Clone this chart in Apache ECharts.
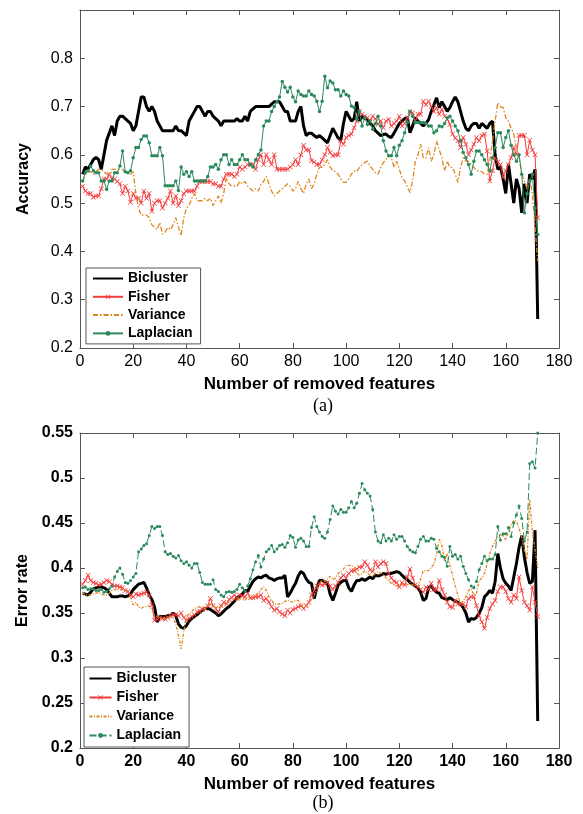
<!DOCTYPE html>
<html>
<head>
<meta charset="utf-8">
<script src="https://cdn.jsdelivr.net/npm/echarts@6/dist/echarts.min.js"></script>
<style>
  html, body { margin: 0; padding: 0; background: #fff; }
  #chart { width: 583px; height: 814px; }
</style>
</head>
<body>
<div id="chart"></div>
<script>
// Method names shown in both legends
const METHODS = ['Bicluster', 'Fisher', 'Variance', 'Laplacian'];
// methods drawn as plain lines (no point markers)
const LINE_ONLY = ['Bicluster', 'Variance'];

// x-axis ticks (number of removed features)
const X_TICKS = [0, 20, 40, 60, 80, 100, 120, 140, 160, 180];
const ACC_TICKS = [0.2, 0.3, 0.4, 0.5, 0.6, 0.7, 0.8, 0.9];
const ERR_TICKS = [0.2, 0.25, 0.3, 0.35, 0.4, 0.45, 0.5, 0.55];

// (a) accuracy after removing 1..172 features
const ACC_BICLUSTER = [
  0.56, 0.575, 0.57, 0.58, 0.59, 0.595, 0.59, 0.57, 0.60, 0.63,
  0.645, 0.66, 0.64, 0.67, 0.68, 0.68, 0.675, 0.67, 0.665, 0.65,
  0.66, 0.69, 0.72, 0.72, 0.70, 0.69, 0.70, 0.69, 0.67, 0.66,
  0.65, 0.65, 0.65, 0.65, 0.65, 0.66, 0.65, 0.65, 0.645, 0.64,
  0.67, 0.68, 0.69, 0.70, 0.70, 0.69, 0.68, 0.69, 0.69, 0.68,
  0.675, 0.67, 0.66, 0.67, 0.67, 0.67, 0.67, 0.67, 0.675, 0.67,
  0.67, 0.68, 0.67, 0.69, 0.695, 0.70, 0.70, 0.70, 0.70, 0.70,
  0.70, 0.705, 0.71, 0.71, 0.71, 0.70, 0.69, 0.69, 0.67, 0.67,
  0.67, 0.69, 0.70, 0.66, 0.64, 0.645, 0.645, 0.64, 0.636, 0.64,
  0.635, 0.63, 0.625, 0.64, 0.655, 0.645, 0.635, 0.63, 0.665, 0.69,
  0.68, 0.67, 0.675, 0.71, 0.67, 0.68, 0.675, 0.674, 0.665, 0.66,
  0.65, 0.645, 0.64, 0.642, 0.643, 0.638, 0.636, 0.645, 0.655, 0.665,
  0.67, 0.675, 0.677, 0.646, 0.66, 0.677, 0.67, 0.665, 0.66, 0.665,
  0.673, 0.69, 0.704, 0.718, 0.698, 0.71, 0.70, 0.69, 0.698, 0.71,
  0.72, 0.71, 0.69, 0.67, 0.655, 0.65, 0.66, 0.665, 0.665, 0.655,
  0.665, 0.66, 0.655, 0.665, 0.67, 0.60, 0.57, 0.575, 0.55, 0.52,
  0.58, 0.54, 0.50, 0.55, 0.53, 0.48, 0.54, 0.50, 0.56, 0.55,
  0.57, 0.26
];
const ACC_FISHER = [
  0.535, 0.525, 0.52, 0.52, 0.512, 0.515, 0.515, 0.53, 0.55, 0.55,
  0.56, 0.55, 0.55, 0.545, 0.54, 0.52, 0.535, 0.525, 0.502, 0.52,
  0.51, 0.51, 0.50, 0.525, 0.51, 0.52, 0.483, 0.50, 0.505, 0.505,
  0.49, 0.50, 0.51, 0.525, 0.50, 0.515, 0.495, 0.505, 0.52, 0.525,
  0.525, 0.525, 0.525, 0.535, 0.545, 0.545, 0.545, 0.545, 0.545, 0.54,
  0.54, 0.535, 0.535, 0.55, 0.56, 0.56, 0.56, 0.555, 0.56, 0.575,
  0.57, 0.575, 0.58, 0.58, 0.58, 0.57, 0.59, 0.60, 0.58, 0.60,
  0.59, 0.58, 0.60, 0.57, 0.57, 0.57, 0.57, 0.57, 0.575, 0.58,
  0.59, 0.58, 0.60, 0.62, 0.61, 0.61, 0.588, 0.585, 0.58, 0.58,
  0.59, 0.60, 0.615, 0.605, 0.598, 0.60, 0.60, 0.629, 0.622, 0.636,
  0.64, 0.643, 0.656, 0.67, 0.69, 0.684, 0.68, 0.677, 0.67, 0.68,
  0.675, 0.663, 0.67, 0.656, 0.67, 0.674, 0.66, 0.665, 0.67, 0.68,
  0.66, 0.665, 0.677, 0.69, 0.687, 0.67, 0.684, 0.684, 0.711, 0.704,
  0.711, 0.70, 0.69, 0.698, 0.684, 0.694, 0.68, 0.674, 0.663, 0.643,
  0.635, 0.629, 0.615, 0.636, 0.622, 0.60, 0.61, 0.622, 0.636, 0.629,
  0.64, 0.643, 0.608, 0.546, 0.567, 0.594, 0.585, 0.58, 0.553, 0.567,
  0.58, 0.594, 0.615, 0.60, 0.64, 0.64, 0.64, 0.60, 0.63, 0.61,
  0.60, 0.47
];
const ACC_VARIANCE = [
  0.545, 0.56, 0.565, 0.565, 0.56, 0.565, 0.57, 0.57, 0.565, 0.56,
  0.56, 0.57, 0.57, 0.57, 0.57, 0.57, 0.565, 0.565, 0.56, 0.565,
  0.52, 0.49, 0.475, 0.475, 0.475, 0.47, 0.455, 0.45, 0.445, 0.46,
  0.436, 0.44, 0.45, 0.445, 0.455, 0.47, 0.45, 0.433, 0.47, 0.49,
  0.495, 0.51, 0.52, 0.505, 0.505, 0.505, 0.51, 0.505, 0.51, 0.495,
  0.505, 0.515, 0.50, 0.52, 0.553, 0.54, 0.535, 0.535, 0.535, 0.545,
  0.54, 0.545, 0.535, 0.53, 0.525, 0.53, 0.525, 0.54, 0.545, 0.555,
  0.54, 0.525, 0.515, 0.52, 0.525, 0.53, 0.535, 0.54, 0.535, 0.525,
  0.53, 0.545, 0.53, 0.52, 0.54, 0.55, 0.53, 0.54, 0.56, 0.574,
  0.574, 0.58, 0.59, 0.575, 0.567, 0.565, 0.56, 0.55, 0.543, 0.543,
  0.55, 0.56, 0.567, 0.565, 0.574, 0.58, 0.584, 0.587, 0.577, 0.57,
  0.563, 0.56, 0.574, 0.584, 0.59, 0.60, 0.594, 0.574, 0.587, 0.57,
  0.553, 0.546, 0.533, 0.522, 0.546, 0.587, 0.60, 0.622, 0.594, 0.594,
  0.615, 0.587, 0.60, 0.629, 0.61, 0.594, 0.567, 0.587, 0.574, 0.574,
  0.56, 0.543, 0.574, 0.594, 0.587, 0.587, 0.58, 0.574, 0.567, 0.567,
  0.565, 0.56, 0.56, 0.587, 0.629, 0.67, 0.708, 0.70, 0.698, 0.677,
  0.67, 0.655, 0.643, 0.615, 0.595, 0.56, 0.546, 0.53, 0.55, 0.52,
  0.45, 0.38
];
const ACC_LAPLACIAN = [
  0.546, 0.563, 0.567, 0.577, 0.567, 0.563, 0.563, 0.546, 0.546, 0.529,
  0.546, 0.546, 0.563, 0.563, 0.577, 0.608, 0.565, 0.563, 0.567, 0.594,
  0.615, 0.615, 0.632, 0.639, 0.639, 0.625, 0.598, 0.598, 0.598, 0.615,
  0.598, 0.536, 0.536, 0.536, 0.536, 0.546, 0.526, 0.575, 0.56, 0.565,
  0.555, 0.565, 0.546, 0.546, 0.546, 0.546, 0.546, 0.555, 0.575, 0.575,
  0.58, 0.57, 0.59, 0.60, 0.60, 0.58, 0.59, 0.58, 0.58, 0.59,
  0.60, 0.59, 0.59, 0.58, 0.575, 0.59, 0.60, 0.61, 0.66, 0.67,
  0.67, 0.69, 0.70, 0.71, 0.72, 0.752, 0.74, 0.73, 0.74, 0.72,
  0.71, 0.732, 0.725, 0.722, 0.722, 0.732, 0.725, 0.722, 0.711, 0.69,
  0.711, 0.763, 0.739, 0.753, 0.749, 0.735, 0.735, 0.722, 0.732, 0.725,
  0.722, 0.701, 0.698, 0.674, 0.69, 0.66, 0.677, 0.663, 0.67, 0.653,
  0.665, 0.68, 0.66, 0.629, 0.608, 0.598, 0.598, 0.615, 0.598, 0.62,
  0.629, 0.646, 0.667, 0.69, 0.68, 0.667, 0.667, 0.667, 0.667, 0.665,
  0.66, 0.66, 0.646, 0.65, 0.66, 0.658, 0.665, 0.677, 0.68, 0.67,
  0.66, 0.65, 0.629, 0.605, 0.594, 0.58, 0.56, 0.587, 0.608, 0.608,
  0.60, 0.59, 0.58, 0.567, 0.594, 0.615, 0.646, 0.646, 0.615, 0.636,
  0.65, 0.62, 0.60, 0.587, 0.60, 0.56, 0.48, 0.52, 0.546, 0.56,
  0.49, 0.435
];

// (b) error rate after removing 1..172 features
const ERR_BICLUSTER = [
  0.372, 0.371, 0.37, 0.373, 0.377, 0.378, 0.379, 0.379, 0.378, 0.376,
  0.372, 0.368, 0.368, 0.368, 0.369, 0.369, 0.368, 0.369, 0.371, 0.376,
  0.379, 0.382, 0.383, 0.384, 0.378, 0.37, 0.365, 0.357, 0.34, 0.346,
  0.346, 0.346, 0.347, 0.347, 0.35, 0.347, 0.338, 0.334, 0.333, 0.336,
  0.341, 0.344, 0.346, 0.348, 0.351, 0.353, 0.355, 0.355, 0.354, 0.352,
  0.35, 0.347, 0.349, 0.352, 0.355, 0.357, 0.36, 0.363, 0.367, 0.369,
  0.371, 0.375, 0.374, 0.38, 0.385, 0.388, 0.39, 0.389, 0.391, 0.392,
  0.389, 0.388, 0.386, 0.388, 0.389, 0.389, 0.392, 0.368, 0.372, 0.378,
  0.383, 0.391, 0.396, 0.394, 0.388, 0.384, 0.383, 0.366, 0.378, 0.386,
  0.386, 0.385, 0.383, 0.371, 0.364, 0.372, 0.381, 0.384, 0.386, 0.386,
  0.378, 0.374, 0.381, 0.386, 0.386, 0.388, 0.386, 0.388, 0.39, 0.388,
  0.392, 0.391, 0.392, 0.394, 0.393, 0.394, 0.394, 0.395, 0.396, 0.395,
  0.392, 0.389, 0.387, 0.384, 0.382, 0.38, 0.378, 0.373, 0.364, 0.366,
  0.378, 0.38, 0.376, 0.373, 0.372, 0.367, 0.366, 0.365, 0.367, 0.365,
  0.363, 0.362, 0.36, 0.356, 0.35, 0.34, 0.344, 0.343, 0.345, 0.35,
  0.356, 0.368, 0.371, 0.375, 0.372, 0.385, 0.416, 0.40, 0.388, 0.383,
  0.38, 0.375, 0.39, 0.405, 0.423, 0.436, 0.412, 0.395, 0.383, 0.385,
  0.442, 0.23
];
const ERR_FISHER = [
  0.382, 0.386, 0.392, 0.386, 0.384, 0.383, 0.381, 0.382, 0.384, 0.386,
  0.385, 0.382, 0.38, 0.38, 0.379, 0.378, 0.375, 0.374, 0.37, 0.368,
  0.371, 0.37, 0.371, 0.372, 0.373, 0.37, 0.359, 0.342, 0.343, 0.345,
  0.344, 0.343, 0.345, 0.347, 0.348, 0.348, 0.347, 0.35, 0.345, 0.342,
  0.344, 0.346, 0.348, 0.351, 0.352, 0.354, 0.355, 0.358, 0.366, 0.358,
  0.355, 0.351, 0.358, 0.362, 0.36, 0.365, 0.367, 0.37, 0.366, 0.37,
  0.369, 0.368, 0.372, 0.367, 0.367, 0.368, 0.368, 0.37, 0.364, 0.366,
  0.362, 0.357, 0.353, 0.355, 0.351, 0.349, 0.347, 0.353, 0.35, 0.354,
  0.355, 0.357, 0.358, 0.355, 0.358, 0.362, 0.37, 0.375, 0.38, 0.383,
  0.381, 0.382, 0.384, 0.38, 0.376, 0.38, 0.384, 0.389, 0.392, 0.389,
  0.394, 0.397, 0.397, 0.399, 0.401, 0.401, 0.407, 0.403, 0.398, 0.396,
  0.407, 0.401, 0.405, 0.407, 0.405, 0.394, 0.389, 0.385, 0.384, 0.379,
  0.384, 0.381, 0.39, 0.399, 0.389, 0.381, 0.379, 0.376, 0.373, 0.379,
  0.376, 0.383, 0.376, 0.376, 0.386, 0.376, 0.37, 0.362, 0.357, 0.356,
  0.364, 0.36, 0.36, 0.36, 0.357, 0.366, 0.368, 0.368, 0.358, 0.347,
  0.34, 0.333, 0.345, 0.355, 0.36, 0.364, 0.374, 0.379, 0.379, 0.374,
  0.366, 0.362, 0.37, 0.366, 0.39, 0.375, 0.362, 0.358, 0.353, 0.379,
  0.362, 0.346
];
const ERR_VARIANCE = [
  0.373, 0.37, 0.37, 0.37, 0.371, 0.372, 0.373, 0.371, 0.37, 0.37,
  0.372, 0.375, 0.376, 0.376, 0.375, 0.376, 0.376, 0.374, 0.368, 0.359,
  0.362, 0.357, 0.355, 0.357, 0.357, 0.358, 0.353, 0.348, 0.346, 0.345,
  0.344, 0.345, 0.346, 0.346, 0.345, 0.338, 0.325, 0.31, 0.329, 0.346,
  0.349, 0.352, 0.355, 0.356, 0.357, 0.356, 0.354, 0.357, 0.36, 0.358,
  0.356, 0.356, 0.357, 0.36, 0.361, 0.362, 0.363, 0.366, 0.364, 0.366,
  0.365, 0.364, 0.368, 0.366, 0.368, 0.37, 0.372, 0.376, 0.379, 0.375,
  0.368, 0.364, 0.36, 0.36, 0.36, 0.361, 0.363, 0.364, 0.363, 0.362,
  0.364, 0.364, 0.36, 0.355, 0.357, 0.362, 0.365, 0.37, 0.376, 0.381,
  0.388, 0.385, 0.388, 0.391, 0.387, 0.389, 0.394, 0.396, 0.399, 0.403,
  0.403, 0.403, 0.40, 0.394, 0.392, 0.394, 0.397, 0.394, 0.392, 0.391,
  0.394, 0.396, 0.394, 0.392, 0.389, 0.386, 0.383, 0.381, 0.38, 0.379,
  0.381, 0.384, 0.381, 0.384, 0.381, 0.381, 0.379, 0.388, 0.397, 0.397,
  0.397, 0.401, 0.404, 0.416, 0.432, 0.425, 0.408, 0.416, 0.403, 0.392,
  0.38, 0.37, 0.36, 0.363, 0.368, 0.375, 0.377, 0.37, 0.372, 0.386,
  0.389, 0.394, 0.405, 0.416, 0.424, 0.43, 0.434, 0.437, 0.436, 0.431,
  0.44, 0.448, 0.453, 0.452, 0.444, 0.434, 0.42, 0.41, 0.476, 0.44,
  0.42, 0.40
];
const ERR_LAPLACIAN = [
  0.378, 0.379, 0.376, 0.377, 0.377, 0.375, 0.375, 0.376, 0.373, 0.374,
  0.377, 0.38, 0.39, 0.396, 0.40, 0.393, 0.384, 0.383, 0.386, 0.39,
  0.394, 0.418, 0.421, 0.425, 0.427, 0.436, 0.446, 0.444, 0.446, 0.446,
  0.436, 0.418, 0.415, 0.416, 0.413, 0.411, 0.414, 0.408, 0.405, 0.407,
  0.403, 0.40, 0.405, 0.405, 0.395, 0.384, 0.382, 0.382, 0.382, 0.387,
  0.376, 0.374, 0.37, 0.368, 0.373, 0.374, 0.373, 0.374, 0.376, 0.382,
  0.378, 0.374, 0.38, 0.388, 0.398, 0.407, 0.414, 0.401, 0.41, 0.418,
  0.421, 0.425, 0.418, 0.421, 0.425, 0.426, 0.423, 0.428, 0.436, 0.434,
  0.423, 0.431, 0.433, 0.43, 0.424, 0.424, 0.445, 0.457, 0.446, 0.44,
  0.435, 0.433, 0.44, 0.454, 0.469, 0.463, 0.46, 0.465, 0.462, 0.462,
  0.467, 0.474, 0.467, 0.472, 0.483, 0.494, 0.487, 0.483, 0.48, 0.465,
  0.44, 0.43, 0.428, 0.437, 0.43, 0.433, 0.43, 0.437, 0.432, 0.435,
  0.435, 0.43, 0.424, 0.42, 0.418, 0.417, 0.424, 0.432, 0.435, 0.43,
  0.43, 0.433, 0.432, 0.422, 0.418, 0.413, 0.412, 0.402, 0.424, 0.413,
  0.415, 0.41, 0.413, 0.402, 0.394, 0.387, 0.38, 0.378, 0.385, 0.398,
  0.405, 0.413, 0.408, 0.41, 0.41, 0.415, 0.446, 0.431, 0.438, 0.438,
  0.445, 0.435, 0.45, 0.459, 0.469, 0.455, 0.43, 0.44, 0.516, 0.518,
  0.511, 0.55
];

const FONT = '"Liberation Sans", Arial, Helvetica, sans-serif';
const AXIS_COLOR = '#555';
const COLORS = { Bicluster: '#000000', Fisher: '#f23a3a', Variance: '#e0861e', Laplacian: '#2b8a5c' };
const X_MARK = 'path://M0,1L1,0L5,4L9,0L10,1L6,5L10,9L9,10L5,6L1,10L0,9L4,5Z';

// pair each value with its feature count (1-based)
const toPoints = vals => vals.map((v, i) => [i + 1, v]);

function xAxesFor(grid, ticks, boldLabels) {
  const base = {
    type: 'value', gridIndex: grid,
    min: ticks[0], max: ticks[ticks.length - 1], interval: ticks[1] - ticks[0],
    axisLine: { show: true, onZero: false, lineStyle: { color: AXIS_COLOR, width: 1 } },
    axisTick: { show: true, inside: true, length: 5, lineStyle: { color: AXIS_COLOR } },
    splitLine: { show: false }
  };
  return [
    Object.assign({}, base, {
      position: 'bottom',
      axisLabel: { color: '#000', fontSize: 16, fontFamily: FONT, fontWeight: boldLabels ? 'bold' : 'normal', margin: 6 },
      name: 'Number of removed features', nameLocation: 'middle', nameGap: 28,
      nameTextStyle: { color: '#000', fontSize: 17, fontWeight: 'bold', fontFamily: FONT }
    }),
    Object.assign({}, base, { position: 'top', axisLabel: { show: false } })
  ];
}

function yAxesFor(grid, ticks, title, boldLabels, formatter) {
  const step = Math.round((ticks[1] - ticks[0]) * 1000) / 1000;
  const base = {
    type: 'value', gridIndex: grid,
    min: ticks[0], max: ticks[ticks.length - 1], interval: step,
    axisLine: { show: true, onZero: false, lineStyle: { color: AXIS_COLOR, width: 1 } },
    axisTick: { show: true, inside: true, length: 5, lineStyle: { color: AXIS_COLOR } },
    splitLine: { show: false }
  };
  return [
    Object.assign({}, base, {
      position: 'left',
      axisLabel: { color: '#000', fontSize: 16, fontFamily: FONT, fontWeight: boldLabels ? 'bold' : 'normal', margin: 7, formatter: formatter },
      name: title, nameLocation: 'middle', nameGap: 48, nameRotate: 90,
      nameTextStyle: { color: '#000', fontSize: 16, fontWeight: 'bold', fontFamily: FONT }
    }),
    Object.assign({}, base, { position: 'right', axisLabel: { show: false } })
  ];
}

function seriesFor(prefix, grid, values, bottom) {
  const xi = grid * 2, yi = grid * 2;
  const common = { type: 'line', xAxisIndex: xi, yAxisIndex: yi, animation: false, emphasis: { disabled: true } };
  return [
    Object.assign({}, common, {
      name: prefix + 'Bicluster', data: toPoints(values[0]), symbol: 'none', z: 2,
      lineStyle: { color: COLORS.Bicluster, width: 3 }, itemStyle: { color: COLORS.Bicluster }
    }),
    Object.assign({}, common, {
      name: prefix + 'Fisher', data: toPoints(values[1]), symbol: X_MARK, symbolSize: 5, showSymbol: true, z: 3,
      lineStyle: { color: COLORS.Fisher, width: 1 }, itemStyle: { color: COLORS.Fisher }
    }),
    Object.assign({}, common, {
      name: prefix + 'Variance', data: toPoints(values[2]), symbol: 'none', z: 4,
      lineStyle: { color: COLORS.Variance, width: 1.3, type: bottom ? [3, 1.5, 1, 1.5] : [5, 2, 1.5, 2] },
      itemStyle: { color: COLORS.Variance }
    }),
    Object.assign({}, common, {
      name: prefix + 'Laplacian', data: toPoints(values[3]), symbol: 'circle', symbolSize: bottom ? 3 : 3.5, showSymbol: true, z: 5,
      lineStyle: { color: COLORS.Laplacian, width: 1, type: bottom ? [7, 3] : 'solid' },
      itemStyle: { color: COLORS.Laplacian }
    })
  ];
}

function legendFor(prefix, left, top, itemWidth, gap, pad) {
  return {
    orient: 'vertical', left: left, top: top,
    itemWidth: itemWidth, itemHeight: 6, itemGap: gap,
    padding: pad, backgroundColor: '#fff', borderColor: AXIS_COLOR, borderWidth: 1, borderRadius: 0,
    selectedMode: false,
    textStyle: { color: '#000', fontSize: 14, fontWeight: 'bold', fontFamily: FONT, lineHeight: 14 },
    data: METHODS.map(m => LINE_ONLY.indexOf(m) >= 0
      ? { name: prefix + m, itemStyle: { opacity: 0 } }
      : { name: prefix + m }),
    formatter: name => name.slice(prefix.length)
  };
}

const chart = echarts.init(document.getElementById('chart'), null, { renderer: 'canvas' });
chart.setOption({
  backgroundColor: '#fff',
  animation: false,
  grid: [
    { left: 80, right: 24, top: 10, height: 338, containLabel: false },
    { left: 80, right: 24, top: 433, height: 315, containLabel: false }
  ],
  xAxis: [].concat(xAxesFor(0, X_TICKS, false), xAxesFor(1, X_TICKS, true)),
  yAxis: [].concat(
    yAxesFor(0, ACC_TICKS, 'Accuracy', false, v => (v > 0.85 ? '' : String(Number(v.toFixed(1))))),
    yAxesFor(1, ERR_TICKS, 'Error rate', true, v => String(Number(v.toFixed(2))))
  ),
  legend: [
    legendFor('acc:', 86, 268, 30, 4.3, [3.5, 8, 3.5, 6]),
    legendFor('err:', 84, 667, 22, 5, [4.5, 8, 4.5, 4.5])
  ],
  series: [].concat(
    seriesFor('acc:', 0, [ACC_BICLUSTER, ACC_FISHER, ACC_VARIANCE, ACC_LAPLACIAN], false),
    seriesFor('err:', 1, [ERR_BICLUSTER, ERR_FISHER, ERR_VARIANCE, ERR_LAPLACIAN], true)
  ),
  graphic: [
    { type: 'text', x: 323, y: 406, style: { text: '(a)', font: '18px "Liberation Serif", "Times New Roman", serif', fill: '#000', textAlign: 'center', textVerticalAlign: 'middle', align: 'center', verticalAlign: 'middle' } },
    { type: 'text', x: 323, y: 803, style: { text: '(b)', font: '18px "Liberation Serif", "Times New Roman", serif', fill: '#000', textAlign: 'center', textVerticalAlign: 'middle', align: 'center', verticalAlign: 'middle' } }
  ]
});
</script>
</body>
</html>
